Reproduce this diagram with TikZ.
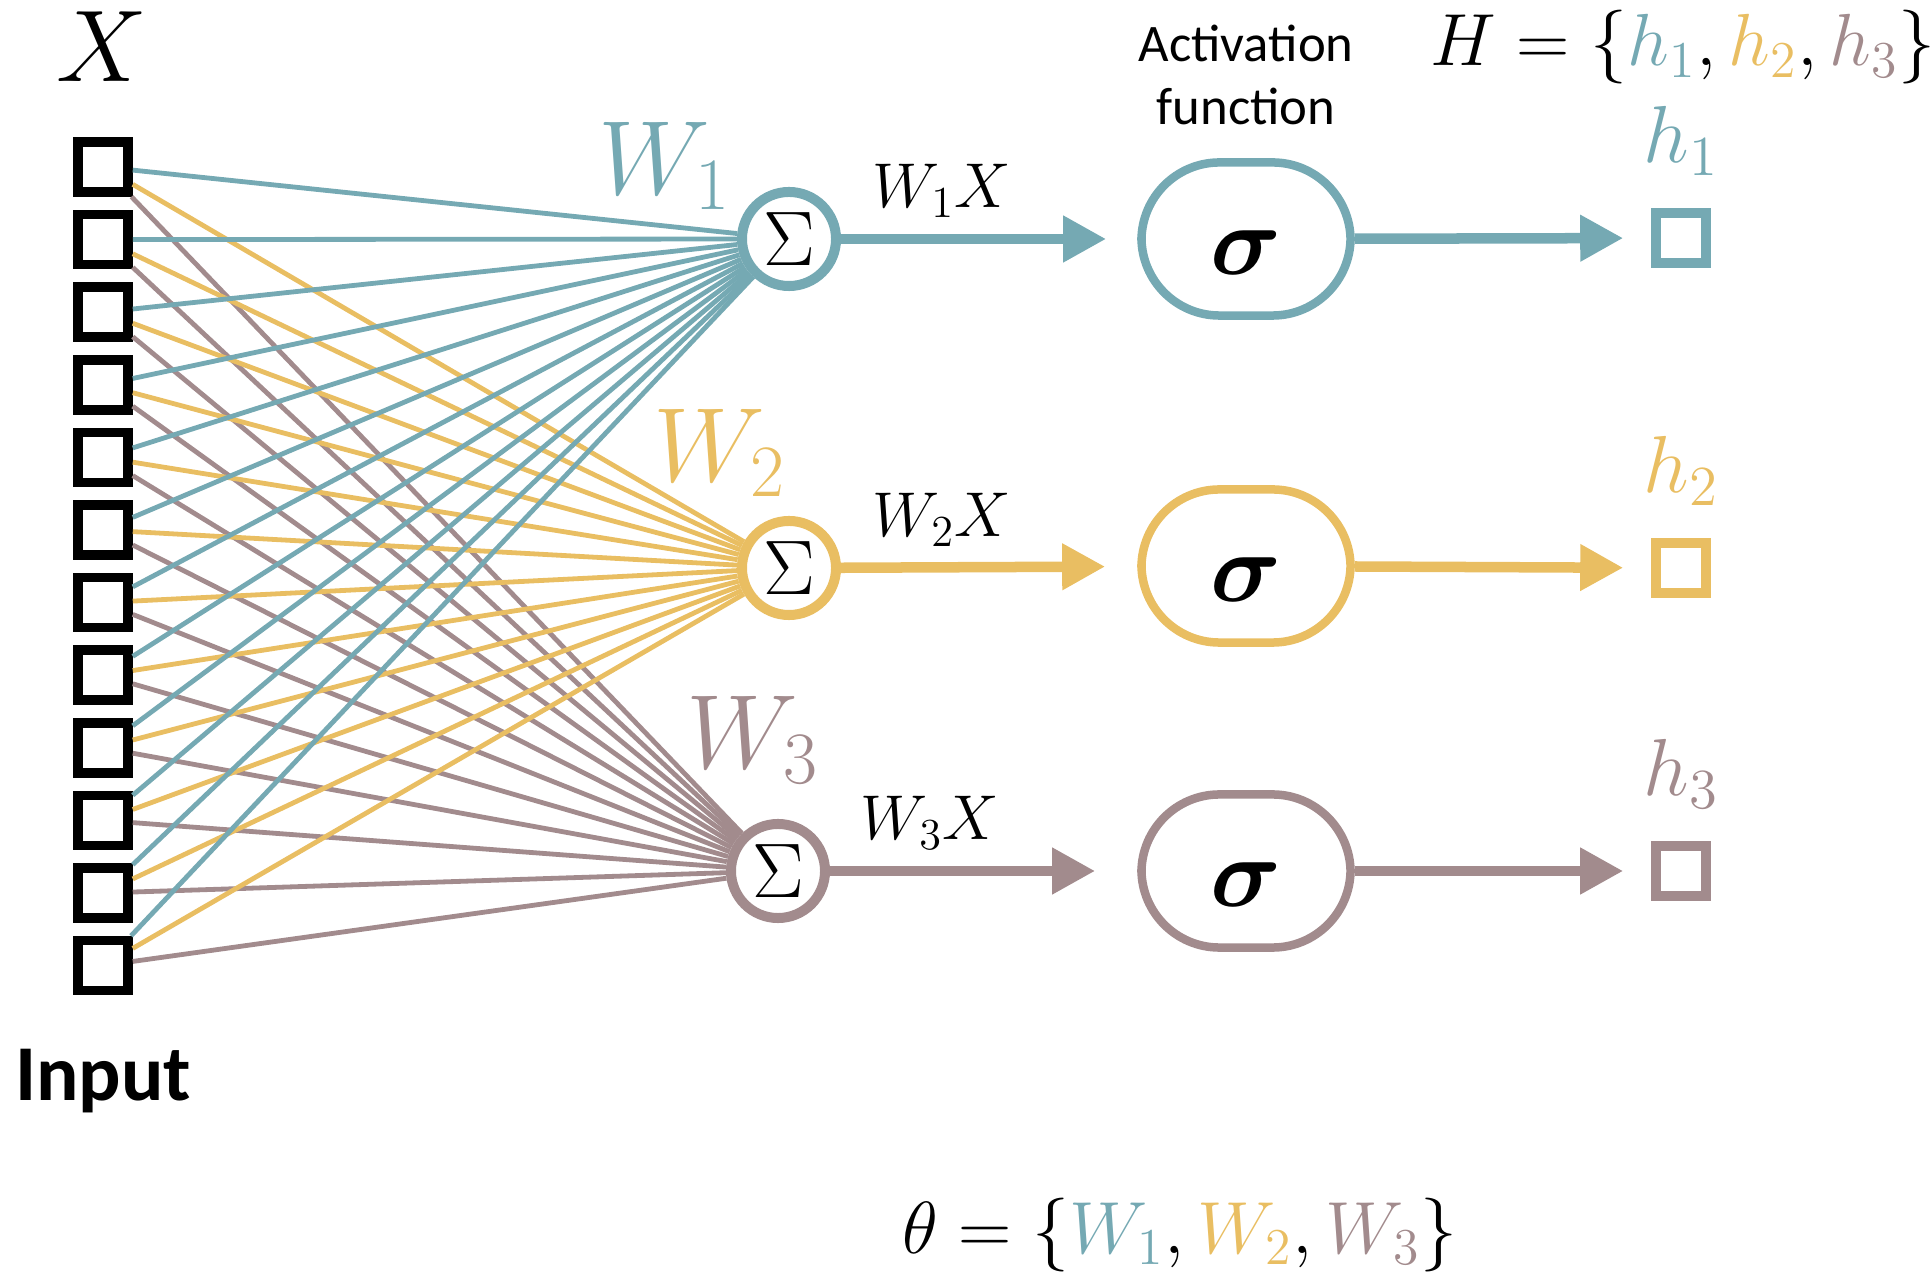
\RequirePackage{fix-cm}
\documentclass[tikz,border=0pt]{standalone}
\usepackage{amsmath,amssymb}
\usepackage{bm}
\usepackage{fontspec}
\setsansfont{Carlito}
\usepackage{tikz}
\usetikzlibrary{arrows.meta, positioning, calc}
\definecolor{wteal}{RGB}{117,169,179}
\definecolor{wyellow}{RGB}{233,190,98}
\definecolor{wmauve}{RGB}{162,139,141}

\begin{document}
\begin{tikzpicture}[
        x=0.01cm, y=-0.01cm,
        inbox/.style={rectangle, draw=black, line width=0.095cm, minimum size=0.5cm, inner sep=0pt},
        outbox/.style={rectangle, line width=0.095cm, minimum size=0.5cm, inner sep=0pt},
        sumnode/.style={circle, line width=0.1cm, fill=white, minimum size=0.94cm, inner sep=0pt, font=\fontsize{22}{22}\selectfont},
        actnode/.style={rectangle, rounded corners=0.78cm, line width=0.085cm, minimum width=2.09cm, minimum height=1.53cm},
        sigmalabel/.style={font=\fontsize{28}{28}\selectfont, inner sep=0pt},
        wire/.style={line width=0.048cm},
        arrow/.style={line width=0.105cm, -{Triangle[length=0.43cm, width=0.44cm]}},
        wlabel/.style={font=\fontsize{30}{30}\selectfont, inner sep=0pt},
        prodlabel/.style={font=\fontsize{18}{18}\selectfont, anchor=base, inner sep=0pt},
        hlabel/.style={font=\fontsize{23}{23}\selectfont, anchor=base, inner sep=0pt},
        formula/.style={font=\fontsize{21}{21}\selectfont, anchor=base, inner sep=0pt}
    ]
    \useasboundingbox (0,0) rectangle (1931,1277);

    % input column
    \node[font=\fontsize{29}{29}\selectfont, inner sep=0pt] (xlab) at (102,47) {$X$};
    \foreach \i in {1,...,12}
        \node[inbox] (in\i) at (103, {167+72.6*(\i-1)}) {};
    \node[font=\sffamily\bfseries\fontsize{22.5}{22.5}\selectfont, anchor=base, inner sep=0pt] (inlab) at (103,1100) {Input};

    % summation nodes
    \node[sumnode, draw=wteal] (s1) at (789,239) {$\Sigma$};
    \node[sumnode, draw=wyellow] (s2) at (789,568) {$\Sigma$};
    \node[sumnode, draw=wmauve] (s3) at (778,871) {$\Sigma$};

    % weights
    \foreach \i in {1,...,12} {
        \draw[wire, wteal] (in\i) -- (s1);
        \draw[wire, wyellow] (in\i) -- (s2);
        \draw[wire, wmauve] (in\i) -- (s3);
    }
    \node[wlabel, text=wteal] (w1) at (665,166) {$W_1$};
    \node[wlabel, text=wyellow] (w2) at (720,453) {$W_2$};
    \node[wlabel, text=wmauve] (w3) at (753,740) {$W_3$};

    % activation
    \node[font=\sffamily\fontsize{15}{18}\selectfont, align=center, inner sep=0pt] (actlab) at (1246,75) {Activation\\function};
    \node[actnode, draw=wteal] (a1) at (1246,239) {};
    \node[actnode, draw=wyellow] (a2) at (1246,566) {};
    \node[actnode, draw=wmauve] (a3) at (1246,871) {};
    \node[sigmalabel] (sg1) at ([yshift=-0.14cm]a1.center) {$\bm{\sigma}$};
    \node[sigmalabel] (sg2) at ([yshift=-0.14cm]a2.center) {$\bm{\sigma}$};
    \node[sigmalabel] (sg3) at ([yshift=-0.14cm]a3.center) {$\bm{\sigma}$};

    \draw[arrow, wteal, shorten >=0.31cm] (s1) -- (a1);
    \draw[arrow, wyellow, shorten >=0.32cm] (s2) -- (a2);
    \draw[arrow, wmauve, shorten >=0.42cm] (s3) -- (a3);
    \node[prodlabel] (p1) at (942,208) {$W_1X$};
    \node[prodlabel] (p2) at (942,537) {$W_2X$};
    \node[prodlabel] (p3) at (930,840) {$W_3X$};

    % outputs
    \node[outbox, draw=wteal] (o1) at (1681,238) {};
    \node[outbox, draw=wyellow] (o2) at (1681,568) {};
    \node[outbox, draw=wmauve] (o3) at (1681,871) {};
    \draw[arrow, wteal, shorten >=0.28cm] (a1) -- (o1);
    \draw[arrow, wyellow, shorten >=0.28cm] (a2) -- (o2);
    \draw[arrow, wmauve, shorten >=0.28cm] (a3) -- (o3);
    \node[hlabel, text=wteal] (h1) at (1681,163) {$h_1$};
    \node[hlabel, text=wyellow] (h2) at (1681,493) {$h_2$};
    \node[hlabel, text=wmauve] (h3) at (1681,796) {$h_3$};

    \node[formula] (hset) at (1683,66) {$H = \{{\color{wteal}h_1}, {\color{wyellow}h_2}, {\color{wmauve}h_3}\}$};
    \node[formula] (theta) at (1180,1253) {$\theta = \{{\color{wteal}W_1}, {\color{wyellow}W_2}, {\color{wmauve}W_3}\}$};
\end{tikzpicture}
\end{document}
